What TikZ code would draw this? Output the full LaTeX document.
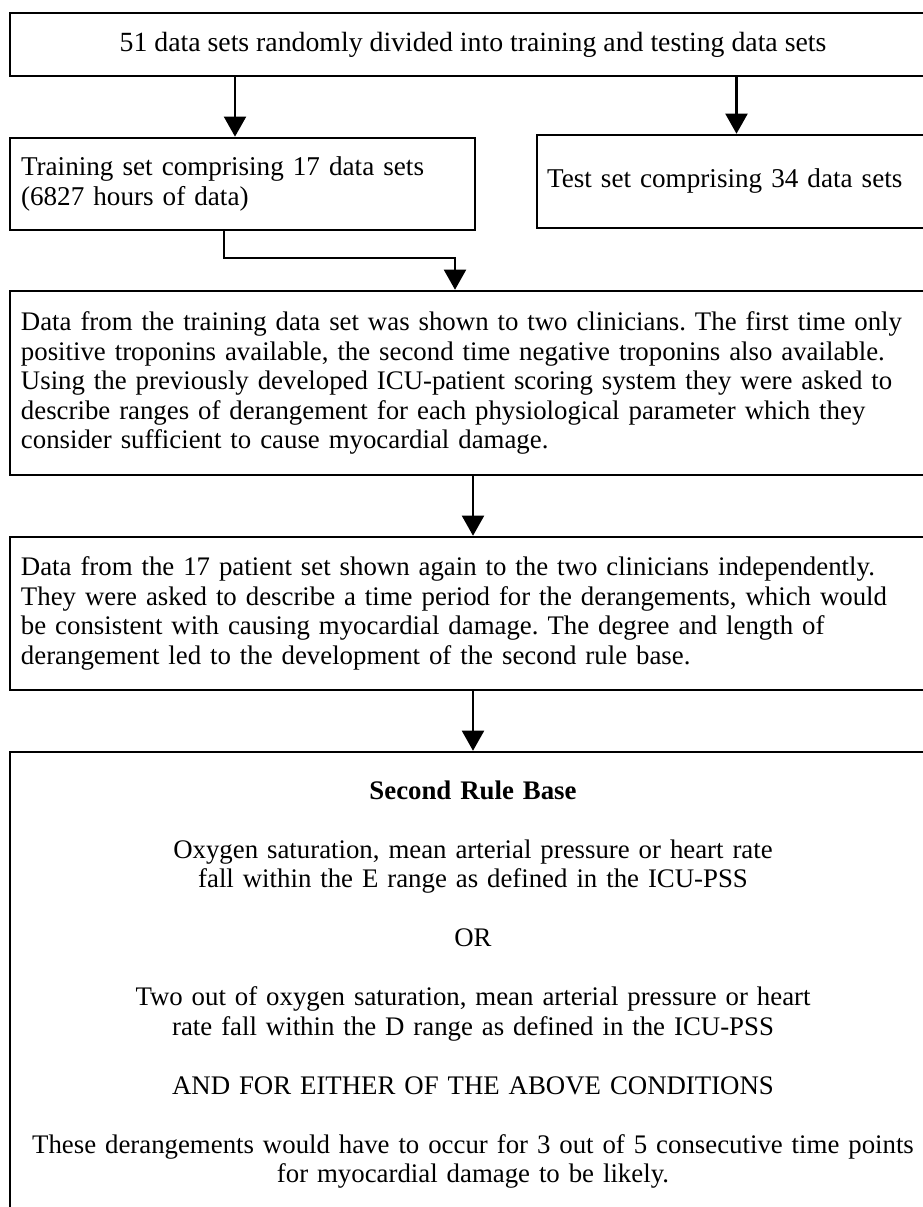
\documentclass[tikz,border=0pt]{standalone}
\usepackage{fontspec}
\setmainfont{Liberation Serif}
\usepackage{tikz}
\usetikzlibrary{arrows.meta}

\newcommand{\px}{0.468pt}

\begin{document}
\begin{tikzpicture}[x=\px, y=-\px,
        box/.style={draw, line width=1.2pt, rectangle, inner ysep=0pt, font=\fontsize{12.55}{13.8}\selectfont\frenchspacing},
        flow/.style={line width=1pt, -{Triangle[length=9.4pt, width=10.3pt]}}]
        \useasboundingbox (0,0) rectangle (923,1207);
        \clip (0,0) rectangle (923,1207);
        \node[box, font=\fontsize{13}{13.8}\selectfont, minimum width=433.4pt, minimum height=29.5pt, align=center] (split) at (473,44.5) {51 data sets randomly divided into training and testing data sets};
        \node[box, font=\fontsize{12.7}{13.8}\selectfont, text width=207.3pt, inner xsep=5.15pt, minimum height=43.1pt, align=left] (train) at (242.5,184) {Training set comprising 17 data sets\\(6827 hours of data)};
        \node[box, font=\fontsize{12.7}{13.8}\selectfont, text width=177.3pt, inner xsep=4.7pt, minimum height=43.5pt, align=left] (test) at (736.5,181.5) {Test set comprising 34 data sets};
        \node[box, text width=423.1pt, inner xsep=5.15pt, minimum height=86.1pt, align=left] (clin1) at (473,383) {Data from the training data set was shown to two clinicians. The first time only\\positive troponins available, the second time negative troponins also available.\\Using the previously developed ICU-patient scoring system they were asked to\\describe ranges of derangement for each physiological parameter which they\\consider sufficient to cause myocardial damage.};
        \node[box, text width=423.1pt, inner xsep=5.15pt, minimum height=71.6pt, align=left] (clin2) at (473,613.5) {Data from the 17 patient set shown again to the two clinicians independently.\\They were asked to describe a time period for the derangements, which would\\be consistent with causing myocardial damage. The degree and length of\\derangement led to the development of the second rule base.};
        \node[box, text width=423.1pt, inner xsep=5.15pt, minimum height=217.6pt, align=center] (rulebase) at (473,984.5) {\textbf{Second Rule Base}\\[13.8pt]Oxygen saturation, mean arterial pressure or heart rate\\fall within the E range as defined in the ICU-PSS\\[13.8pt]OR\\[13.8pt]Two out of oxygen saturation, mean arterial pressure or heart\\rate fall within the D range as defined in the ICU-PSS\\[13.8pt]AND FOR EITHER OF THE ABOVE CONDITIONS\\[13.8pt]These derangements would have to occur for 3 out of 5 consecutive time points\\for myocardial damage to be likely.};
        \coordinate (lefttap) at (235,0);
        \coordinate (elbowin) at (224,258);
        \coordinate (elbowout) at (455,258);
        \draw[flow] (split.south -| lefttap) -- (train.north -| lefttap);
        \draw[flow] (split.south -| test.north) -- (test.north);
        \draw[flow] (train.south -| elbowin) -- (elbowin) -- (elbowout) -- (clin1.north -| elbowout);
        \draw[flow] (clin1.south) -- (clin2.north);
        \draw[flow] (clin2.south) -- (rulebase.north);
      \end{tikzpicture}
\end{document}
